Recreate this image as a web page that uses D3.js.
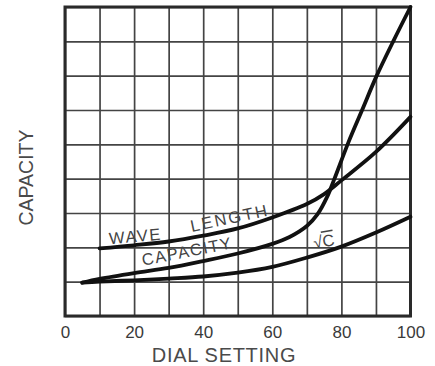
<!DOCTYPE html>
<html>
<head>
<meta charset="utf-8">
<script src="https://cdn.jsdelivr.net/npm/d3@7"></script>
<style>
  html, body { margin: 0; padding: 0; background: #fff; }
  svg { display: block; }
</style>
</head>
<body>
<svg id="chart" width="435" height="366"></svg>
<script>
// ---- data ----
const xTickLabels = [0, 20, 40, 60, 80, 100];
const xGridValues = [0, 10, 20, 30, 40, 50, 60, 70, 80, 90, 100];
const yGridValues = [0, 1, 2, 3, 4, 5, 6, 7, 8, 9];

const waveDial  = [10, 20, 30, 40, 50, 60, 70, 75, 80, 90, 100];
const waveValue = [1.97, 2.06, 2.17, 2.34, 2.55, 2.87, 3.26, 3.55, 3.95, 4.78, 5.8];

const capDial  = [5, 10, 20, 30, 40, 50, 60, 65, 70, 73, 76, 78, 82, 86, 90, 95, 100];
const capValue = [0.97, 1.08, 1.25, 1.4, 1.6, 1.82, 2.1, 2.3, 2.62, 2.95, 3.5, 4.0, 5.05, 6.0, 6.95, 8.0, 9.0];

const sqrtDial  = [5, 10, 20, 30, 40, 50, 60, 70, 80, 90, 100];
const sqrtValue = [0.97, 1.0, 1.04, 1.09, 1.15, 1.26, 1.43, 1.7, 2.02, 2.43, 2.89];

const xAxisTitle = "DIAL SETTING";
const yAxisTitle = "CAPACITY";

// ---- layout ----
const svg = d3.select("#chart");
const mLeft = 65, mRight = 410.5, mTop = 7, mBottom = 316;
const x = d3.scaleLinear().domain([0, 100]).range([mLeft, mRight]);
const y = d3.scaleLinear().domain([0, 9]).range([mBottom, mTop]);

const gridColor = "#444";

// vertical grid
svg.append("g")
  .attr("transform", `translate(0,${mBottom})`)
  .call(d3.axisBottom(x).tickValues(xGridValues).tickSize(-(mBottom - mTop)).tickFormat(""))
  .call(g => g.select(".domain").remove())
  .call(g => g.selectAll("line").attr("stroke", gridColor).attr("stroke-width", 1.7));

// horizontal grid
svg.append("g")
  .attr("transform", `translate(${mLeft},0)`)
  .call(d3.axisLeft(y).tickValues(yGridValues).tickSize(-(mRight - mLeft)).tickFormat(""))
  .call(g => g.select(".domain").remove())
  .call(g => g.selectAll("line").attr("stroke", gridColor).attr("stroke-width", 1.7));

// frame
svg.append("rect")
  .attr("x", mLeft).attr("y", mTop)
  .attr("width", mRight - mLeft).attr("height", mBottom - mTop)
  .attr("fill", "none").attr("stroke", "#2a2a2a").attr("stroke-width", 3);

// x tick labels
svg.append("g")
  .attr("transform", `translate(0,${mBottom})`)
  .call(d3.axisBottom(x).tickValues(xTickLabels).tickSize(0).tickPadding(10))
  .call(g => g.select(".domain").remove())
  .call(g => g.selectAll("text")
    .attr("font-family", "'Liberation Sans', Arial, sans-serif")
    .attr("font-size", 17)
    .attr("fill", "#3a3a3a")
    .attr("dy", "0.71em"));

// axis titles
svg.append("text")
  .attr("x", 224).attr("y", 361.5)
  .attr("text-anchor", "middle")
  .attr("font-family", "'Liberation Sans', Arial, sans-serif")
  .attr("font-size", 20)
  .attr("letter-spacing", 0.7)
  .attr("fill", "#4a4a4a")
  .text(xAxisTitle);

svg.append("text")
  .attr("transform", "translate(33,177.5) rotate(-90)")
  .attr("text-anchor", "middle")
  .attr("font-family", "'Liberation Sans', Arial, sans-serif")
  .attr("font-size", 19.5)
  .attr("fill", "#4a4a4a")
  .text(yAxisTitle);

// curves
const line = d3.line()
  .x(d => x(d[0]))
  .y(d => y(d[1]))
  .curve(d3.curveCatmullRom.alpha(0.5));

const series = [
  d3.zip(waveDial, waveValue),
  d3.zip(capDial, capValue),
  d3.zip(sqrtDial, sqrtValue)
];

svg.append("g").selectAll("path")
  .data(series)
  .join("path")
  .attr("d", line)
  .attr("fill", "none")
  .attr("stroke", "#111")
  .attr("stroke-width", 3.8)
  .attr("stroke-linecap", "round");

// curve annotations
const annFont = "'Liberation Sans', Arial, sans-serif";
function note(txt, dx, dv, angle, spacing) {
  return svg.append("text")
    .attr("transform", `translate(${x(dx)},${y(dv)}) rotate(${angle})`)
    .attr("text-anchor", "middle")
    .attr("font-family", annFont)
    .attr("font-size", 16.5)
    .attr("letter-spacing", spacing)
    .attr("fill", "#444")
    .text(txt);
}
note("WAVE", 20.5, 2.16, -5, 1.5);
note("LENGTH", 48, 2.69, -12, 2.2);
note("CAPACITY", 35.6, 1.72, -11, 1.3);

const sq = svg.append("text")
  .attr("transform", `translate(${x(75.2)},${y(2.01)}) rotate(-10)`)
  .attr("text-anchor", "middle")
  .attr("font-family", annFont)
  .attr("font-size", 16.5)
  .attr("fill", "#444");
sq.append("tspan").text("√");
sq.append("tspan").style("text-decoration", "overline").text("C");
</script>
</body>
</html>
